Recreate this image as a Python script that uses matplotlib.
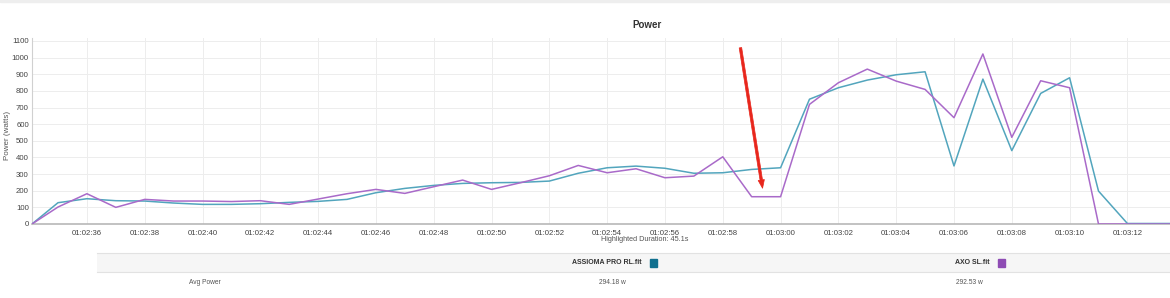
import matplotlib
matplotlib.use("Agg")
import matplotlib.pyplot as plt
from matplotlib.patches import Rectangle

plt.rcParams['font.family'] = ['Liberation Sans', 'DejaVu Sans']

# seconds after 01:02:00
seconds = [34.1, 35, 36, 37, 38, 39, 40, 41, 42, 43, 44, 45, 46, 47, 48, 49, 50,
           51, 52, 53, 54, 55, 56, 57, 58, 59, 60, 61, 62, 63, 64, 65, 66, 67,
           68, 69, 70, 71, 72, 73, 74, 75, 76, 77, 78, 79]

assioma = [0, 128, 152, 140, 138, 126, 118, 118, 122, 130, 136, 148, 188, 214,
           232, 244, 248, 250, 258, 305, 338, 348, 335, 305, 308, 328, 338, 750,
           819, 865, 897, 915, 349, 871, 441, 785, 879, 198, 3, 3, 3, 3, 3, 3, 3, 3]

axo = [0, 102, 182, 100, 148, 138, 138, 135, 140, 118, 150, 182, 208, 184, 224,
       264, 208, 248, 290, 352, 308, 332, 278, 288, 404, 164, 164, 719, 849, 931,
       859, 809, 639, 1022, 521, 861, 819, 0, 0, 0, 0, 0, 0, 0, 0, 0]

tick_secs = list(range(36, 80, 2))
yticks = list(range(0, 1101, 100))

files = ["ASSIOMA PRO RL.fit", "AXO SL.fit"]
avg_power = ["294.18 w", "292.53 w"]
line_colors = ["#52a5bd", "#a96ac9"]
key_colors = ["#10708f", "#8e4cb4"]


def fmt(s):
    m = 2 + int(s) // 60
    return "01:%02d:%02d" % (m, int(s) % 60)


W, H = 1170, 298
fig = plt.figure(figsize=(W / 100, H / 100), dpi=100)

# top header strip
fig.patches.append(Rectangle((0, 1 - 2 / H), 1, 2 / H, transform=fig.transFigure,
                             color="#eeeeee", zorder=0))

# plot area (wider than the crop on the right, like the original screenshot)
x0, x1 = 31.7, 1335.5
y_bot, y_top = 224, 38
ax = fig.add_axes([x0 / W, 1 - y_bot / H, (x1 - x0) / W, (y_bot - y_top) / H])
ax.plot(seconds, assioma, color=line_colors[0], lw=1.1, zorder=3)
ax.plot(seconds, axo, color=line_colors[1], lw=1.1, zorder=4)

ax.set_xlim(34.09, 79.2)
ax.set_ylim(0, 1118)
ax.set_xticks(tick_secs)
ax.set_xticklabels([fmt(s) for s in tick_secs])
ax.set_yticks(yticks)
ax.grid(True, color="#ededed", lw=0.7)
ax.set_axisbelow(True)
ax.tick_params(length=0, labelsize=5.6, colors="#444444")
ax.tick_params(axis="x", pad=4)
ax.tick_params(axis="y", pad=2)
for side in ["top", "right"]:
    ax.spines[side].set_visible(False)
ax.spines["left"].set_color("#d0d0d0")
ax.spines["bottom"].set_color("#b8b8b8")
ax.spines["bottom"].set_linewidth(1.2)

fig.text(8 / W, 1 - 135 / H, "Power (watts)", rotation=90, ha="center", va="center",
         fontsize=5.8, color="#555555")
fig.text(647 / W, 1 - 25 / H, "Power", ha="center", va="center", fontsize=7,
         fontweight="bold", color="#333333")
fig.text(645 / W, 1 - 239.5 / H, "Highlighted Duration: 45.1s", ha="center", va="center",
         fontsize=5.2, color="#555555")

# red arrow annotation
ax.annotate("", xy=(763, H - 191), xycoords="figure pixels",
            xytext=(740, H - 45), textcoords="figure pixels",
            arrowprops=dict(arrowstyle="simple,head_width=0.45,head_length=0.6,tail_width=0.18",
                            color="#e8261c", lw=0.5))

# summary table below the chart
fig.patches.append(Rectangle((97 / W, 1 - 272 / H), 1, 19 / H, transform=fig.transFigure,
                             facecolor="#f6f6f6", edgecolor="none", zorder=0))
for yy in (253, 272):
    fig.add_artist(plt.Line2D([97 / W, 1], [1 - yy / H, 1 - yy / H],
                              transform=fig.transFigure, color="#e2e2e2", lw=0.8))
header_right = [642, 990]
value_left = [599, 956]
for i in range(2):
    fig.text(header_right[i] / W, 1 - 263 / H, files[i], ha="right", va="center",
             fontsize=5, fontweight="bold", color="#333333")
    fig.patches.append(Rectangle(((header_right[i] + 8) / W, 1 - 267 / H), 7 / W, 8 / H,
                                 transform=fig.transFigure, color=key_colors[i]))
    fig.text(value_left[i] / W, 1 - 282 / H, avg_power[i], ha="left", va="center",
             fontsize=4.8, color="#555555")
fig.text(205 / W, 1 - 282 / H, "Avg Power", ha="center", va="center",
         fontsize=4.8, color="#555555")

fig.savefig("out.png", dpi=100)
